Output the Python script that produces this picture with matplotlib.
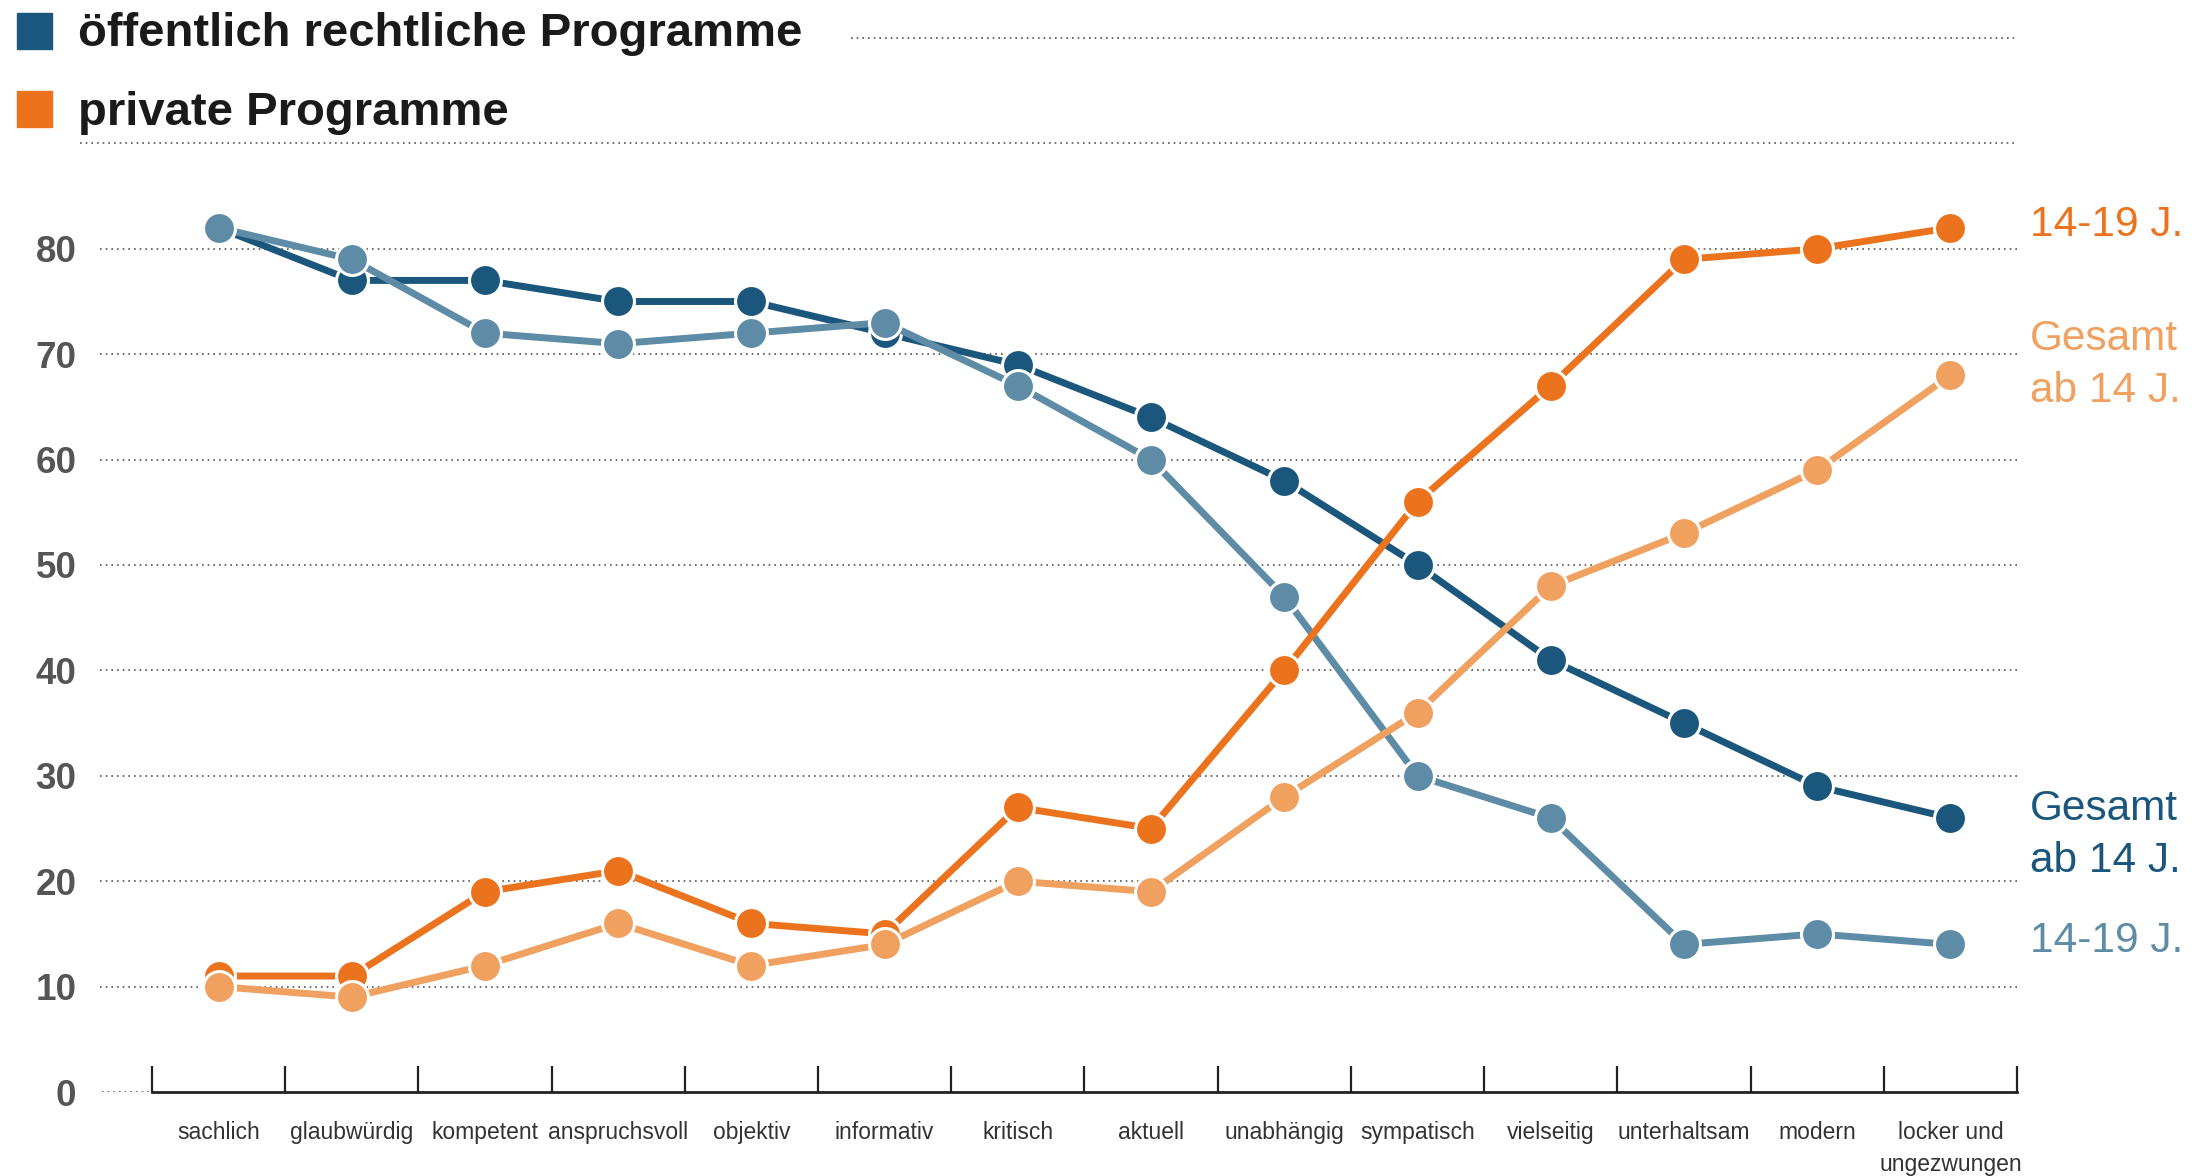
import numpy as np
import matplotlib
matplotlib.use("Agg")
import matplotlib.pyplot as plt
from matplotlib.patches import Rectangle

plt.rcParams['font.family'] = ['Liberation Sans', 'DejaVu Sans']

# Daten (Prozent)
kategorien = ["sachlich", "glaubwürdig", "kompetent", "anspruchsvoll", "objektiv",
              "informativ", "kritisch", "aktuell", "unabhängig", "sympatisch",
              "vielseitig", "unterhaltsam", "modern", "locker und\nungezwungen"]
oer_gesamt = [82, 77, 77, 75, 75, 72, 69, 64, 58, 50, 41, 35, 29, 26]
oer_jung = [82, 79, 72, 71, 72, 73, 67, 60, 47, 30, 26, 14, 15, 14]
priv_jung = [11, 11, 19, 21, 16, 15, 27, 25, 40, 56, 67, 79, 80, 82]
priv_gesamt = [10, 9, 12, 16, 12, 14, 20, 19, 28, 36, 48, 53, 59, 68]
y_ticks = [0, 10, 20, 30, 40, 50, 60, 70, 80]

dunkelblau = "#1b577d"
hellblau = "#5e8ca6"
orange = "#eb731e"
hellorange = "#f0a05f"
grau = "#555555"

W, H = 2212, 1176
fig = plt.figure(figsize=(W / 100, H / 100), dpi=100)
ax = fig.add_axes([100 / W, (H - 1092) / H, (2017 - 100) / W, (1092 - 38) / H])
x0 = -0.89
ax.set_xlim(x0, 13.5)
ax.set_ylim(0, 100)

# gepunktete Hilfslinien
punkt = dict(color=grau, linewidth=1.2, linestyles=(0, (1, 2.4)))
for v in range(10, 90, 10):
    ax.hlines(v, x0, 13.5, **punkt)
ax.hlines(90, -1.04, 13.5, clip_on=False, **punkt)
ax.hlines(100, 4.75, 13.5, clip_on=False, **punkt)
ax.hlines(0, -0.875, -0.5, **punkt)

x = np.arange(len(kategorien))
serien = [(oer_gesamt, dunkelblau), (oer_jung, hellblau),
          (priv_jung, orange), (priv_gesamt, hellorange)]
for z, (werte, farbe) in enumerate(serien):
    ax.plot(x, werte, color=farbe, lw=5, marker="o", ms=23,
            mfc=farbe, mec="white", mew=2.2, zorder=3 + z, clip_on=False)

# Achsen
for s in ["top", "right", "left"]:
    ax.spines[s].set_visible(False)
ax.spines["bottom"].set_bounds(-0.5, 13.5)
ax.spines["bottom"].set_linewidth(2)
ax.spines["bottom"].set_color("#222222")
ax.set_xticks(x)
ax.set_xticklabels(kategorien, fontsize=16.5, color="#333333", linespacing=1.5)
ax.set_xticks(np.arange(-0.5, 14, 1), minor=True)
ax.tick_params(axis="x", which="major", length=0, pad=21)
ax.tick_params(axis="x", which="minor", direction="in", length=19, width=1.6,
               color="#222222")
ax.set_yticks(y_ticks)
ax.set_yticklabels([str(v) for v in y_ticks], fontsize=26.5, fontweight="bold",
                   color=grau)
ax.tick_params(axis="y", length=0, pad=17)

# Beschriftungen rechts
rechts = dict(fontsize=30.5, ha="left", va="center", clip_on=False, linespacing=1.38)
ax.text(13.6, 82.3, "14-19 J.", color=orange, **rechts)
ax.text(13.6, 69.0, "Gesamt\nab 14 J.", color=hellorange, **rechts)
ax.text(13.6, 24.4, "Gesamt\nab 14 J.", color=dunkelblau, **rechts)
ax.text(13.6, 14.3, "14-19 J.", color=hellblau, **rechts)

# Legende
fig.patches.append(Rectangle((17 / W, 1 - 49 / H), 35 / W, 36 / H,
                             transform=fig.transFigure, color=dunkelblau))
fig.patches.append(Rectangle((17 / W, 1 - 127 / H), 35 / W, 36 / H,
                             transform=fig.transFigure, color=orange))
fig.text(78 / W, 1 - 34 / H, "öffentlich rechtliche Programme", fontsize=34,
         fontweight="bold", color="#1a1a1a", va="center", ha="left")
fig.text(78 / W, 1 - 113 / H, "private Programme", fontsize=34,
         fontweight="bold", color="#1a1a1a", va="center", ha="left")

fig.savefig("out.png", dpi=100)
